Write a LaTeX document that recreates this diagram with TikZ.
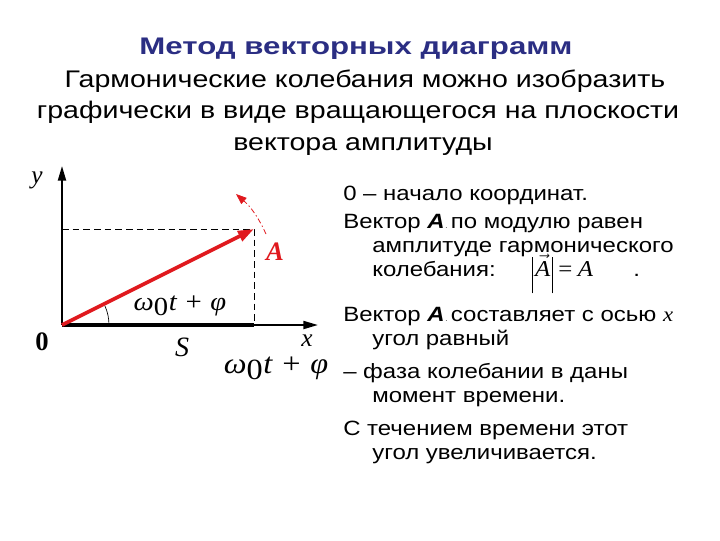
\documentclass[tikz,border=0pt]{standalone}
\usepackage{fontspec}
\setmainfont{Liberation Sans}
\newfontfamily\tms{Liberation Serif}
\newfontfamily\titf[FakeStretch=1.3]{Liberation Sans}
\newfontfamily\subf[FakeStretch=1.19]{Liberation Sans}
\newfontfamily\bodyf[FakeStretch=1.16]{Liberation Sans}
\newfontfamily\tmsw[FakeStretch=1.1]{Liberation Serif}
\usetikzlibrary{arrows.meta}
\definecolor{navy}{HTML}{2B2E83}
\definecolor{vred}{HTML}{E0191E}
\begin{document}
\begin{tikzpicture}[x=0.75pt,y=-0.75pt,
  body/.style={anchor=base west,inner sep=0pt,font=\bodyf\fontsize{15.5}{18}\selectfont},
  sub/.style={anchor=base,inner sep=0pt,font=\subf\fontsize{18}{22}\selectfont},
  lbl/.style={inner sep=0pt,font=\tms\itshape\fontsize{19}{22}\selectfont},
  axis/.style={line width=1.5pt,-{Triangle[length=11pt,width=6pt]}},
  guide/.style={line width=0.6pt,dash pattern=on 5pt off 3pt}]
\useasboundingbox (0,0) rectangle (720,540);
% title
\node[anchor=base,inner sep=0pt,font=\titf\bfseries\fontsize{18}{22}\selectfont,text=navy] (title) at (356,54) {Метод векторных диаграмм};
\node[sub] (s1) at (365,87) {Гармонические колебания можно изобразить};
\node[sub] (s2) at (358,118.5) {графически в виде вращающегося на плоскости};
\node[sub] (s3) at (363,150) {вектора амплитуды};
% diagram
\coordinate (O) at (62,325);
\coordinate (Ytip) at (62,166);
\coordinate (Xtip) at (318,325);
\coordinate (P) at (254,229);
\coordinate (Px) at (254,325);
\coordinate (Py) at (62,229);
\coordinate (R1) at (266,234);
\coordinate (R2) at (236,194);
\draw[axis] (O) -- (Ytip);
\draw[axis] (O) -- (Xtip);
\draw[line width=3pt] (O) -- (Px);
\draw[guide] (Py) -- (P) -- (Px);
\draw[vred,line width=2.8pt,-{Triangle[length=12pt,width=8pt]}] (O) -- (P);
\draw[vred,line width=0.6pt,dash pattern=on 4pt off 2pt on 1pt off 2pt,-{Triangle[length=8pt,width=6pt]}] (R1) to[bend right=12] (R2);
\draw[line width=0.5pt] (109,325) arc[start angle=0,end angle=-24,radius=47];
\node[lbl] (ylab) at (37,180) {y};
\node[lbl] (xlab) at (307,341) {x};
\node[inner sep=0pt,font=\tms\bfseries\fontsize{20}{22}\selectfont] (zero) at (42,342) {0};
\node[lbl,font=\tms\itshape\fontsize{21}{22}\selectfont] (S) at (182,347) {S};
\node[inner sep=0pt,text=vred,font=\tms\bfseries\itshape\fontsize{20}{22}\selectfont] (Alab) at (275,252) {A};
\node[lbl,font=\tmsw\itshape\fontsize{19.5}{22}\selectfont] (phi1) at (180,306) {ω\raisebox{-0.4ex}{\upshape 0}\kern0.5pt t + φ};
\node[lbl,font=\tmsw\itshape\fontsize{22}{24}\selectfont] (phi2) at (276,368) {ω\raisebox{-0.45ex}{\upshape 0}\kern0.5pt t + φ};
% right text
\node[body] (t1) at (343,200) {0 – начало координат.};
\node[body] (t2) at (343,228) {Вектор \textbf{\textit{A}}\kern0.5pt{\tiny .}\,по модулю равен};
\node[body] (t3) at (372,252) {амплитуде гармонического};
\node[body] (t4) at (372,276) {колебания:};
\node[body,font=\tmsw\itshape\fontsize{17}{18}\selectfont] (t4f) at (532,276) {\rule[-13pt]{0.6pt}{27pt}\kern1.5pt$\vec{\mbox{\tmsw\itshape A}}$\kern1.5pt\rule[-13pt]{0.6pt}{27pt}\kern4pt{\upshape =}\kern4pt A};
\node[body] (t4d) at (633,276) {.};
\node[body] (t5) at (343,321) {Вектор \textbf{\textit{A}}\kern0.5pt{\tiny .}\,составляет с осью {\tmsw\itshape x}};
\node[body] (t6) at (372,345) {угол равный};
\node[body] (t7) at (343,378) {– фаза колебании в даны};
\node[body] (t8) at (372,402) {момент времени.};
\node[body] (t9) at (343,435) {С течением времени этот};
\node[body] (t10) at (372,459) {угол увеличивается.};
\end{tikzpicture}
\end{document}
